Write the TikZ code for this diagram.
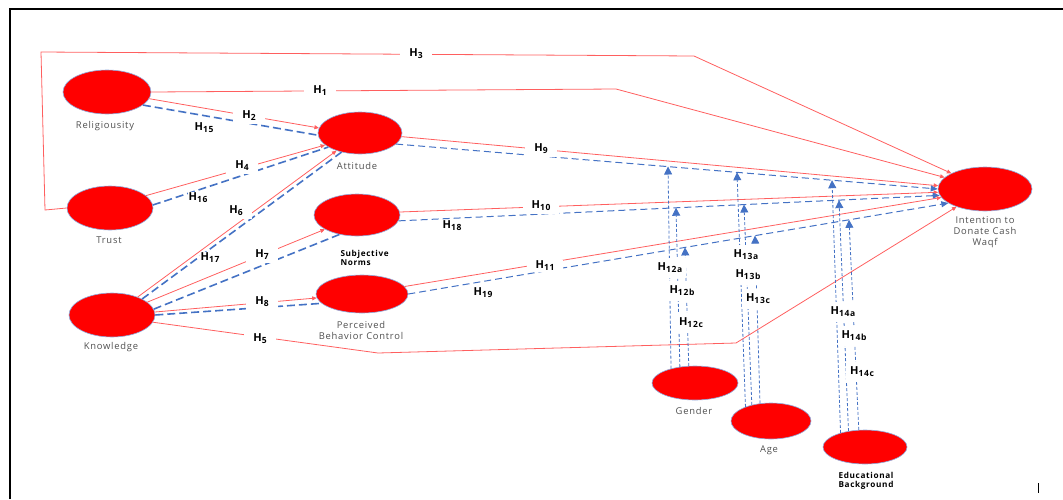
\documentclass[tikz,border=0pt]{standalone}
\usepackage{fontspec}
\setmainfont[LetterSpace=8]{Open Sans}
\usepackage{tikz}
\usetikzlibrary{shapes.geometric,arrows.meta}

\definecolor{hypred}{RGB}{255,95,95}
\definecolor{medblue}{RGB}{68,114,196}
\definecolor{rimblue}{RGB}{143,170,220}
\definecolor{capgray}{RGB}{80,80,80}
\newcommand{\hyplab}[1]{H\raisebox{-0.35ex}{\fontsize{8.5}{8.5}\selectfont #1}}

\begin{document}
\begin{tikzpicture}[x=1pt,y=-1pt,
    construct/.style={ellipse,fill=red,draw=rimblue,line width=0.6pt,inner sep=0pt},
    caption/.style={text=capgray,font=\fontsize{9.4}{11}\selectfont,align=center},
    boldcap/.style={font=\bfseries\fontsize{8.2}{9.5}\selectfont},
    direct/.style={hypred,line width=0.8pt,-{Triangle[length=4.5pt,width=4pt]}},
    mediate/.style={medblue,line width=1.6pt,dash pattern=on 8pt off 4pt},
    mediateout/.style={medblue,line width=1pt,dash pattern=on 7pt off 4pt,-{Triangle[length=7pt,width=6pt]}},
    moderate/.style={medblue,line width=0.8pt,dash pattern=on 3pt off 2pt,-{Triangle[length=8pt,width=8pt]}},
    hnote/.style={fill=white,inner sep=1pt,font=\bfseries\fontsize{11}{12}\selectfont},
    hlabel/.style={hnote,inner xsep=9pt,inner ysep=3pt},
    hmod/.style={hnote,inner xsep=4pt,inner ysep=5pt}]
    \useasboundingbox (0,0) rectangle (1063,499);
    \draw[line width=2.5pt] (10,499) -- (10,9) -- (1063,9);
    \draw[line width=0.8pt] (1038,483) -- (1038,493);

    \node[construct,minimum width=88pt,minimum height=44pt] (rel) at (107,92) {};
    \node[construct,minimum width=86pt,minimum height=44pt] (trust) at (110,208) {};
    \node[construct,minimum width=86pt,minimum height=44pt] (know) at (112,315) {};
    \node[construct,minimum width=84pt,minimum height=42pt] (att) at (360,133) {};
    \node[construct,minimum width=86pt,minimum height=42pt] (sn) at (357,215) {};
    \node[construct,minimum width=92pt,minimum height=38pt] (pbc) at (362,294) {};
    \node[construct,minimum width=94pt,minimum height=44pt] (int) at (985,189) {};
    \node[construct,minimum width=86pt,minimum height=34pt] (gen) at (695,383) {};
    \node[construct,minimum width=80pt,minimum height=36pt] (age) at (771,421) {};
    \node[construct,minimum width=84pt,minimum height=34pt] (edu) at (865,447) {};

    \node[caption] (relcap) at (105,126) {Religiousity};
    \node[caption] (trustcap) at (109,240) {Trust};
    \node[caption] (knowcap) at (111,347) {Knowledge};
    \node[caption] (attcap) at (357,166) {Attitude};
    \node[boldcap,align=left,anchor=west] (sncap) at (337,258) {Subjective\\Norms};
    \node[caption] (pbccap) at (361,330) {Perceived\\Behavior Control};
    \node[caption] (intcap) at (985,232) {Intention to\\Donate Cash\\Waqf};
    \node[caption] (gencap) at (694,411) {Gender};
    \node[caption] (agecap) at (769,450) {Age};
    \node[boldcap,align=center] (educap) at (866,481) {Educational\\Background};

    \draw[direct] (trust.west) -- (45,210) -- (41,52) -- (694,56) -- (int.155);
    \draw[direct] (rel.east) -- (616,89) -- (int.164);
    \draw[direct] (rel.-9) -- (att.173);
    \draw[mediate] (rel.-20) -- (att.183);
    \draw[direct] (trust.19) -- (att.199);
    \draw[mediate] (trust.4) -- (att.204);
    \draw[direct] (know.35) -- (att.217);
    \draw[mediate] (know.28) -- (att.226);
    \draw[direct] (know.20) -- (sn.204);
    \draw[mediate] (know.8) -- (sn.228);
    \draw[direct] (know.4) -- (pbc.185);
    \draw[mediate] (know.0) -- (pbc.193);
    \draw[direct] (know.-10) -- (378,353) -- (736,343) -- (int.212);
    \draw[direct] (att.-5) -- (int.176);
    \draw[mediateout] (att.-17) -- (int.180);
    \draw[direct] (sn.4) -- (int.184);
    \draw[mediateout] (sn.-8) -- (int.188);
    \draw[direct] (pbc.10) -- (int.191);
    \draw[mediateout] (pbc.east) -- (int.201);

    \coordinate (g1) at (668,166.5);
    \coordinate (g2) at (676,207.7);
    \coordinate (g3) at (685,247.4);
    \coordinate (a1) at (737,172.3);
    \coordinate (a2) at (744,204.5);
    \coordinate (a3) at (755,235.6);
    \coordinate (e1) at (832,180.2);
    \coordinate (e2) at (839,200.1);
    \coordinate (e3) at (849,219.8);
    \draw[moderate] (gen.149) -- (g1);
    \draw[moderate] (gen.133) -- (g2);
    \draw[moderate] (gen.110) -- (g3);
    \draw[moderate] (age.151) -- (a1);
    \draw[moderate] (age.140) -- (a2);
    \draw[moderate] (age.122) -- (a3);
    \draw[moderate] (edu.150) -- (e1);
    \draw[moderate] (edu.136) -- (e2);
    \draw[moderate] (edu.110) -- (e3);

    \node[hlabel] (h3) at (416,54) {\hyplab{3}};
    \node[hlabel] (h1) at (320,91) {\hyplab{1}};
    \node[hlabel] (h2) at (249,116) {\hyplab{2}};
    \node[hnote] (h15) at (204,128) {\hyplab{15}};
    \node[hlabel] (h4) at (242,166) {\hyplab{4}};
    \node[hnote] (h16) at (198,198) {\hyplab{16}};
    \node[hlabel] (h6) at (236,211) {\hyplab{6}};
    \node[hnote] (h17) at (210,258) {\hyplab{17}};
    \node[hlabel] (h7) at (262,255) {\hyplab{7}};
    \node[hlabel] (h8) at (262,302) {\hyplab{8}};
    \node[hlabel] (h5) at (260,339) {\hyplab{5}};
    \node[hlabel] (h9) at (541,149) {\hyplab{9}};
    \node[hlabel] (h10) at (541,206) {\hyplab{10}};
    \node[hnote] (h18) at (452,226) {\hyplab{18}};
    \node[hlabel,inner ysep=1pt] (h11) at (545,266) {\hyplab{11}};
    \node[hnote] (h19) at (483,293) {\hyplab{19}};
    \node[hmod] (h12a) at (670,268) {\hyplab{12a}};
    \node[hmod] (h12b) at (682,291) {\hyplab{12b}};
    \node[hmod] (h12c) at (691,323) {\hyplab{12c}};
    \node[hmod] (h13a) at (746,255) {\hyplab{13a}};
    \node[hmod] (h13b) at (748,275) {\hyplab{13b}};
    \node[hmod] (h13c) at (758,299) {\hyplab{13c}};
    \node[hmod] (h14a) at (843,312) {\hyplab{14a}};
    \node[hmod] (h14b) at (854,336) {\hyplab{14b}};
    \node[hmod] (h14c) at (862,372) {\hyplab{14c}};
\end{tikzpicture}
\end{document}
